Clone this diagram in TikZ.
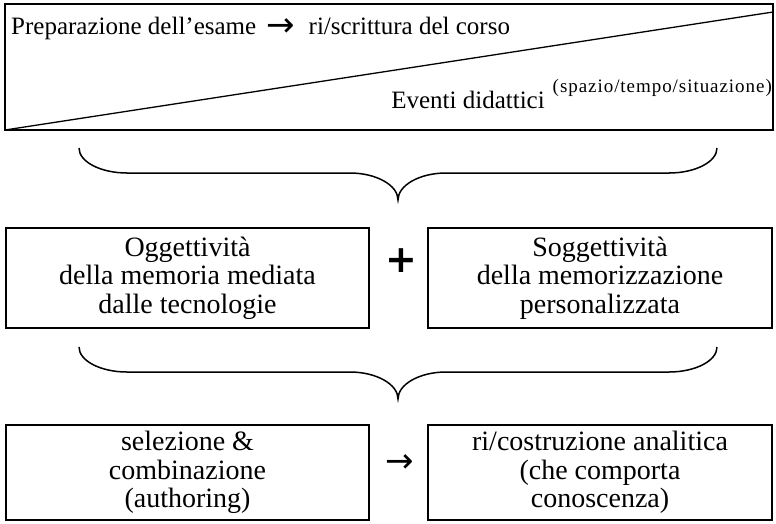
\documentclass[tikz,border=0pt]{standalone}
\usepackage{fontspec}
\setmainfont{Liberation Serif}
\newfontfamily\symfont{DejaVu Sans}
\usetikzlibrary{positioning}

\begin{document}
\begin{tikzpicture}[
	x=1pt, y=-1pt,
	box/.style={draw, line width=2.4pt, inner sep=0pt, outer sep=0pt, align=center, font=\fontsize{28}{28.5}\selectfont},
	toptext/.style={inner sep=0pt, font=\fontsize{25}{28}\selectfont},
	symb/.style={inner sep=0pt, font=\symfont\fontsize{34}{34}\selectfont},
	brace/.style={line width=1.5pt},
	node distance=59pt
	]
	\useasboundingbox (0,0) rectangle (776,523);
	
	% --- Top box ---
	\node[box, minimum width=768pt, minimum height=126pt] (prep) at (389,67) {};
	\draw[line width=1.3pt] (prep.south west) -- ([yshift=-8pt]prep.north east);
	\node[toptext, anchor=base west] (prepa) at (11,34) {Preparazione dell’esame\hspace{10pt}\raisebox{-2pt}{\symfont\fontsize{34}{34}\selectfont →}\hspace{14pt}ri/scrittura del corso};
	\node[toptext, anchor=base east] (event) at (772,108) {Eventi didattici\hspace{8pt}\raisebox{16pt}{\fontsize{19}{19}\selectfont\addfontfeature{LetterSpace=5}(spazio/tempo/situazione)}};
	
	% --- Brace 1 ---
	\draw[brace] (79,148) .. controls (79,162) and (101,173) .. (127,173) -- (350,173)
	.. controls (376,173) and (398,185) .. (398,200)
	.. controls (398,185) and (420,173) .. (446,173) -- (669,173)
	.. controls (695,173) and (717,162) .. (717,148);
	
	% --- Middle row ---
	\node[box, minimum width=363pt, minimum height=100pt] (ogg) at (187.5,278) {Oggettività\\della memoria mediata\\dalle tecnologie};
	\node[box, minimum width=344pt, minimum height=100pt, right=of ogg] (sogg) {Soggettività\\della memorizzazione\\personalizzata};
	\node[symb, font=\symfont\bfseries\fontsize{38}{38}\selectfont] (plus) at (401,261) {+};
	
	% --- Brace 2 ---
	\draw[brace] (79,347) .. controls (79,361) and (101,372) .. (127,372) -- (350,372)
	.. controls (376,372) and (398,384) .. (398,399)
	.. controls (398,384) and (420,372) .. (446,372) -- (669,372)
	.. controls (695,372) and (717,361) .. (717,347);
	
	% --- Bottom row ---
	\node[box, minimum width=363pt, minimum height=95pt, below=97pt of ogg] (sel) {selezione \&\\combinazione\\(authoring)};
	\node[box, minimum width=344pt, minimum height=95pt, right=of sel] (ric) {ri/costruzione analitica\\(che comporta\\conoscenza)};
	\node[symb] (arr) at (400,464) {→};
	
\end{tikzpicture}
\end{document}
